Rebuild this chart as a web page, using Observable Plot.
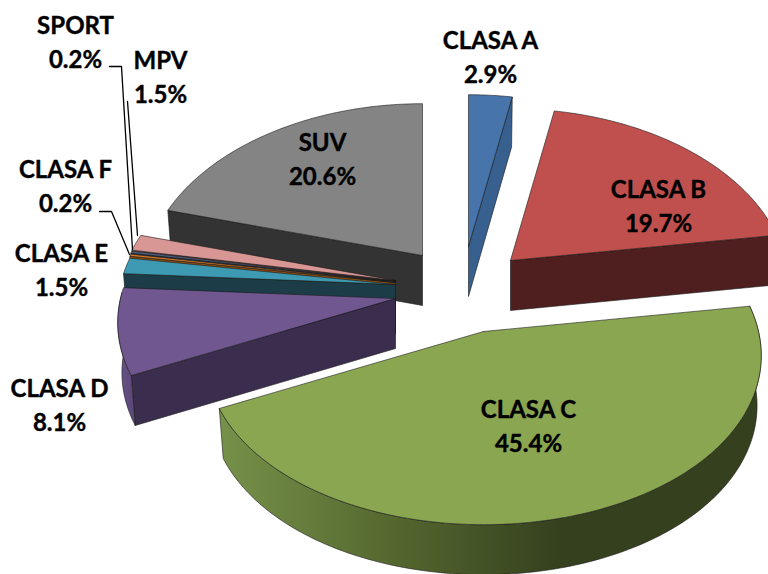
<!DOCTYPE html>
<html>
<head>
<meta charset="utf-8">
<style>html,body{margin:0;padding:0;background:#fff;overflow:hidden}svg{display:block}</style>
<script src="https://cdn.jsdelivr.net/npm/d3@7"></script>
<script src="https://cdn.jsdelivr.net/npm/@observablehq/plot@0.6"></script>
</head>
<body>
<script>
// Data
const categories = ["CLASA A","CLASA B","CLASA C","CLASA D","CLASA E","CLASA F","SPORT","MPV","SUV"];
const shares = [2.9,19.7,45.4,8.1,1.5,0.2,0.2,1.5,20.6];

// Styles
const topColors  = ["#4674AB","#C0504D","#8BA650","#70578F","#3D9AB2","#DE7F26","#4F6486","#D89795","#848484"];
const wallColors = ["#38608F","#4F1F1F","url(#wallC)","#3B2D4E","#1C3D48","#8A4E14","#2E3A50","#7A4A4A","#333333"];
const rimColors  = ["#38608F","#4F1F1F","url(#wallC)","url(#wallD)","#1C3D48","#8A4E14","#2E3A50","#7A4A4A","#333333"];

// Layout: where each exploded wedge's tip sits, the 3D look, labels and leaders
const tipX = [468,510,483,395,395,395,395,395,422];
const tipY = [246,260,331,298,284,282,281,280,255];
const radiusX = 275, radiusY = 170, perspectiveX = 0.14, perspectiveY = 0.12, depth = 50, wallTaper = 0.015;
const paintOrder = [8,7,6,5,4,3,0,1,2];
const labelX = [490,658,528,59,61,65,75,160,322];
const labelY = [55,204,424,403,268,184,40,75,157];
const leaders = [
  [[109,66],[121,66],[132,249]],
  [[127,101],[137,235]],
  [[99,211],[111,211],[129,254]]
];

const total = d3.sum(shares);
let running = 0;
const wedges = shares.map((s, i) => {
  const a0 = running / total * 360; running += s;
  return {i, a0, a1: running / total * 360};
});
const rim = (i, deg, drop = 0) => {
  const t = deg * Math.PI / 180, u = Math.sin(t), v = Math.cos(t);
  const taper = drop ? 1 - wallTaper : 1;
  return {
    x: tipX[i] + radiusX * u / (1 + perspectiveX * v) * taper,
    y: tipY[i] - radiusY * v / (1 + perspectiveY * v) + drop
  };
};
const arc = (i, a0, a1, drop = 0) => d3.range(0, 1.0001, 1 / Math.max(2, Math.ceil(Math.abs(a1 - a0)))).map(f => rim(i, a0 + (a1 - a0) * f, drop));
const poly = (pts, fill, stroke = "#1a1a1a") => Plot.line([...pts, pts[0]], {x: "x", y: "y", fill, stroke, strokeWidth: 0.6, curve: "linear"});

const marks = [
  () => {
    const defs = d3.create("svg:defs");
    const g = defs.append("linearGradient").attr("id", "wallC").attr("gradientUnits", "userSpaceOnUse")
      .attr("x1", 221).attr("x2", 560).attr("y1", 0).attr("y2", 0);
    [[0, "#76914A"], [0.5, "#55682F"], [1, "#35401E"]].forEach(([o, c]) => g.append("stop").attr("offset", o).attr("stop-color", c));
    const h = defs.append("linearGradient").attr("id", "wallD").attr("gradientUnits", "userSpaceOnUse")
      .attr("x1", 117).attr("x2", 140).attr("y1", 0).attr("y2", 0);
    [[0, "#6A548C"], [1, "#54426F"]].forEach(([o, c]) => h.append("stop").attr("offset", o).attr("stop-color", c));
    return defs.node();
  }
];

for (const j of paintOrder) {
  const {i, a0, a1} = wedges[j];
  const tip = {x: tipX[i], y: tipY[i]};
  const tipLow = {x: tip.x, y: tip.y + depth};
  // radial wall at the trailing edge, radial wall at the leading edge
  if (a1 < 180) marks.push(poly([tip, rim(i, a1), rim(i, a1, depth), tipLow], wallColors[i]));
  if (a0 > 180) marks.push(poly([tip, rim(i, a0), rim(i, a0, depth), tipLow], wallColors[i]));
  // outer curved wall, only where it faces the viewer
  const r0 = Math.max(a0, 80), r1 = Math.min(a1, 272);
  if (r1 > r0) {
    const up = arc(i, r0, r1), low = arc(i, r0, r1, depth).reverse();
    marks.push(poly([...up, ...low], rimColors[i]));
  }
  // top face
  marks.push(poly([tip, ...arc(i, a0, a1)], topColors[i]));
}

for (const l of leaders) {
  marks.push(Plot.line(l.map(([x, y]) => ({x, y})), {x: "x", y: "y", stroke: "#000", strokeWidth: 1.3, curve: "linear"}));
}

marks.push(Plot.text(categories.map((c, i) => ({t: `${c}\n${shares[i].toFixed(1)}%`, x: labelX[i], y: labelY[i]})), {
  x: "x", y: "y", text: "t", textAnchor: "middle", lineHeight: 1.42,
  fontFamily: "Lato", fontWeight: 700, fontSize: 24, fill: "#000", stroke: "#000", strokeWidth: 0.4
}));

document.body.append(Plot.plot({
  width: 768, height: 574, margin: 0,
  x: {domain: [0, 768], range: [0, 768], axis: null},
  y: {domain: [0, 574], range: [0, 574], axis: null},
  style: {background: "#fff"},
  marks
}));
</script>
</body>
</html>
